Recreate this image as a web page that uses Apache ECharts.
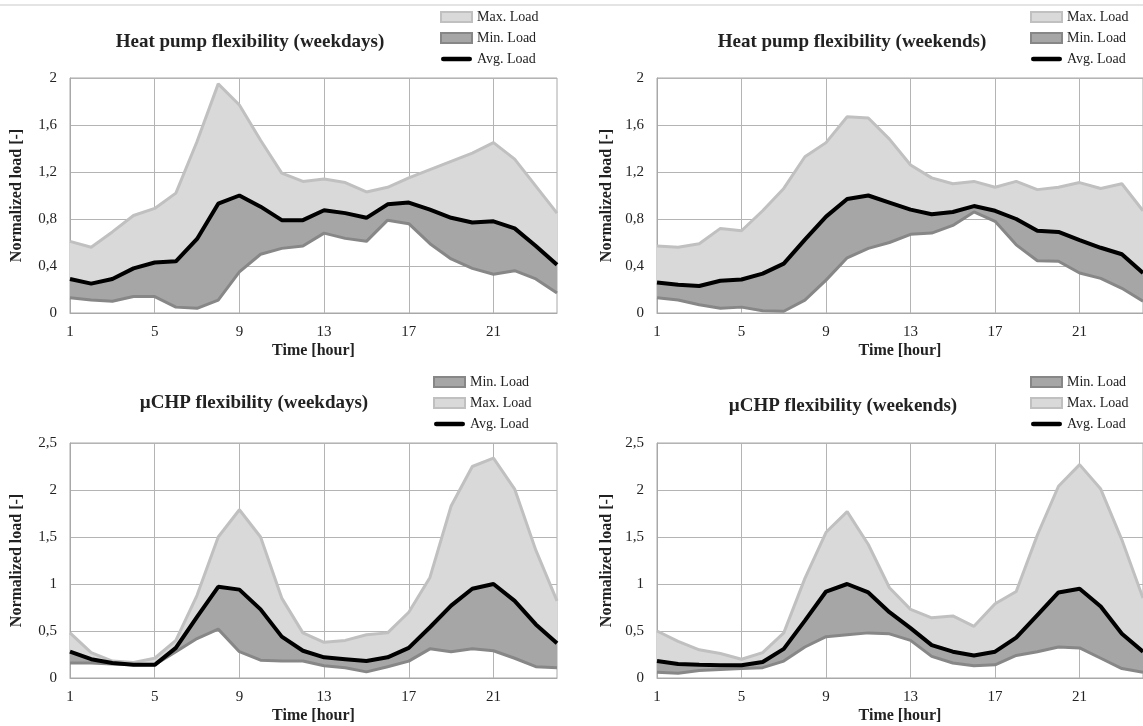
<!DOCTYPE html>
<html>
<head>
<meta charset="utf-8">
<title>Heat pump and µCHP flexibility</title>
<script src="https://cdn.jsdelivr.net/npm/echarts@6/dist/echarts.min.js"></script>
<style>
html,body{margin:0;padding:0;background:#fff;}
#main{width:1143px;height:726px;}
</style>
</head>
<body>
<div id="main"></div>
<script>
var hours = ['1','2','3','4','5','6','7','8','9','10','11','12','13','14','15','16','17','18','19','20','21','22','23','24'];

// heat pump, weekdays
var hpWdMax = [0.61,0.56,0.69,0.83,0.89,1.02,1.46,1.95,1.77,1.47,1.19,1.12,1.14,1.11,1.03,1.07,1.15,1.22,1.29,1.36,1.45,1.31,1.08,0.85];
var hpWdAvg = [0.29,0.25,0.29,0.38,0.43,0.44,0.63,0.93,1.00,0.905,0.79,0.79,0.875,0.85,0.81,0.925,0.94,0.88,0.81,0.77,0.78,0.72,0.57,0.41];
var hpWdMin = [0.13,0.11,0.10,0.14,0.14,0.05,0.04,0.11,0.35,0.50,0.55,0.57,0.68,0.635,0.61,0.79,0.76,0.59,0.46,0.38,0.33,0.36,0.29,0.17];

// heat pump, weekends
var hpWeMax = [0.57,0.56,0.59,0.72,0.70,0.87,1.06,1.33,1.45,1.67,1.66,1.48,1.26,1.15,1.10,1.12,1.07,1.12,1.05,1.07,1.11,1.06,1.10,0.87];
var hpWeAvg = [0.26,0.24,0.23,0.275,0.285,0.335,0.42,0.625,0.82,0.97,1.00,0.94,0.88,0.84,0.86,0.91,0.87,0.80,0.70,0.69,0.62,0.555,0.50,0.34];
var hpWeMin = [0.13,0.11,0.07,0.04,0.05,0.02,0.015,0.11,0.28,0.47,0.55,0.60,0.67,0.68,0.745,0.86,0.78,0.58,0.445,0.44,0.34,0.295,0.21,0.10];

// µCHP, weekdays
var chpWdMax = [0.48,0.27,0.18,0.165,0.21,0.40,0.88,1.50,1.79,1.50,0.85,0.48,0.38,0.40,0.46,0.48,0.70,1.07,1.83,2.25,2.34,2.01,1.36,0.82];
var chpWdAvg = [0.28,0.20,0.16,0.14,0.14,0.32,0.65,0.97,0.94,0.73,0.44,0.29,0.22,0.20,0.18,0.22,0.32,0.54,0.77,0.95,1.00,0.82,0.57,0.37];
var chpWdMin = [0.16,0.16,0.15,0.14,0.14,0.28,0.42,0.52,0.28,0.19,0.18,0.18,0.13,0.11,0.065,0.12,0.18,0.31,0.28,0.31,0.29,0.21,0.12,0.11];

// µCHP, weekends
var chpWeMax = [0.50,0.39,0.30,0.26,0.20,0.27,0.48,1.06,1.55,1.77,1.42,0.96,0.73,0.64,0.66,0.55,0.79,0.92,1.52,2.04,2.27,2.01,1.47,0.85];
var chpWeAvg = [0.18,0.15,0.14,0.135,0.135,0.17,0.31,0.61,0.92,1.00,0.91,0.70,0.53,0.35,0.28,0.24,0.28,0.43,0.67,0.91,0.95,0.76,0.47,0.28];
var chpWeMin = [0.06,0.05,0.08,0.09,0.10,0.11,0.18,0.33,0.44,0.46,0.48,0.47,0.40,0.23,0.16,0.13,0.14,0.24,0.28,0.33,0.32,0.21,0.10,0.06];

var titles = ['Heat pump flexibility (weekdays)','Heat pump flexibility (weekends)','µCHP flexibility (weekdays)','µCHP flexibility (weekends)'];

var FONT = '"Liberation Serif", "DejaVu Serif", serif';
var C_LIGHT = '#d9d9d9', C_LIGHT_LINE = '#c0c0c0';
var C_DARK = '#a6a6a6', C_DARK_LINE = '#878787';

var chart = echarts.init(document.getElementById('main'));

var grids = [
    {left: 70, top: 78, width: 487, height: 235},
    {left: 657, top: 78, width: 486, height: 235},
    {left: 70, top: 443, width: 487, height: 235},
    {left: 657, top: 443, width: 486, height: 235}
];

function commaLabel(v){
    return String(+v.toFixed(2)).replace('.', ',');
}

var xAxes = [], yAxes = [], series = [], legends = [], titleOpts = [];

function addPanel(i, max, avg, min, yMax, yStep, titleX, titleY, legendX, legendY, legendOrder){
    grids[i].show = true;
    grids[i].borderColor = '#a8a8a8';
    grids[i].borderWidth = 1;

    xAxes.push({
        gridIndex: i, type: 'category', data: hours, boundaryGap: false,
        name: 'Time [hour]', nameLocation: 'middle', nameGap: 30,
        nameTextStyle: {fontFamily: FONT, fontSize: 16, fontWeight: 'bold', color: '#222'},
        axisLine: {lineStyle: {color: '#a8a8a8'}},
        axisTick: {show: false},
        axisLabel: {interval: 3, margin: 12, fontFamily: FONT, fontSize: 15, color: '#222'},
        splitLine: {show: true, interval: 3, lineStyle: {color: '#b4b4b4'}}
    });
    yAxes.push({
        gridIndex: i, type: 'value', min: 0, max: yMax, interval: yStep,
        name: 'Normalized load [-]', nameLocation: 'middle', nameGap: (i % 2 == 0) ? 45 : 42,
        nameTextStyle: {fontFamily: FONT, fontSize: 16, fontWeight: 'bold', color: '#222'},
        axisLine: {show: true, lineStyle: {color: '#a8a8a8'}},
        axisTick: {show: false},
        axisLabel: {margin: 13, fontFamily: FONT, fontSize: 15, color: '#222', formatter: commaLabel},
        splitLine: {show: true, lineStyle: {color: '#b4b4b4'}}
    });

    // bands between min/avg and avg/max, built by stacking the differences
    var dark = [], light = [];
    for (var k = 0; k < avg.length; k++) {
        dark.push(avg[k] - min[k]);
        light.push(max[k] - avg[k]);
    }
    var base = {type: 'line', xAxisIndex: i, yAxisIndex: i, symbol: 'none', silent: true, animation: false};
    series.push(Object.assign({}, base, {name: 'base', stack: 'band' + i, data: min, lineStyle: {opacity: 0}}));
    series.push(Object.assign({}, base, {name: 'Min. Load', stack: 'band' + i, data: dark, lineStyle: {opacity: 0}, areaStyle: {color: C_DARK, opacity: 1}}));
    series.push(Object.assign({}, base, {name: 'Max. Load', stack: 'band' + i, data: light, lineStyle: {opacity: 0}, areaStyle: {color: C_LIGHT, opacity: 1}}));
    series.push(Object.assign({}, base, {name: 'Max. Load', data: max, z: 3, lineStyle: {color: C_LIGHT_LINE, width: 3}}));
    series.push(Object.assign({}, base, {name: 'Min. Load', data: min, z: 3, lineStyle: {color: C_DARK_LINE, width: 3}}));
    series.push(Object.assign({}, base, {name: 'Avg. Load', data: avg, z: 4, lineStyle: {color: '#000', width: 4}}));

    var items = {
        'Max. Load': {name: 'Max. Load', icon: 'rect', itemStyle: {color: C_LIGHT, borderColor: C_LIGHT_LINE, borderWidth: 2}},
        'Min. Load': {name: 'Min. Load', icon: 'rect', itemStyle: {color: C_DARK, borderColor: C_DARK_LINE, borderWidth: 2}},
        'Avg. Load': {name: 'Avg. Load', icon: 'path://M2.5,0 L30.5,0 A2.5,2.5 0 0 1 30.5,5 L2.5,5 A2.5,2.5 0 0 1 2.5,0 Z', itemStyle: {color: '#000', borderWidth: 0}}
    };
    legends.push({
        orient: 'vertical', left: legendX, top: legendY, padding: 0,
        itemWidth: 31, itemHeight: 10, itemGap: 7, selectedMode: false,
        textStyle: {fontFamily: FONT, fontSize: 14, color: '#222'},
        data: legendOrder.map(function(n){ return items[n]; })
    });

    titleOpts.push({
        text: titles[i], left: titleX, top: titleY, padding: 0,
        textAlign: 'center', textVerticalAlign: 'middle',
        textStyle: {fontFamily: FONT, fontSize: 19, fontWeight: 'bold', color: '#222'}
    });
}

addPanel(0, hpWdMax, hpWdAvg, hpWdMin, 2, 0.4, 250, 42, 440, 10, ['Max. Load','Min. Load','Avg. Load']);
addPanel(1, hpWeMax, hpWeAvg, hpWeMin, 2, 0.4, 852, 42, 1030, 10, ['Max. Load','Min. Load','Avg. Load']);
addPanel(2, chpWdMax, chpWdAvg, chpWdMin, 2.5, 0.5, 254, 403, 433, 375, ['Min. Load','Max. Load','Avg. Load']);
addPanel(3, chpWeMax, chpWeAvg, chpWeMin, 2.5, 0.5, 843, 406, 1030, 375, ['Min. Load','Max. Load','Avg. Load']);

chart.setOption({
    backgroundColor: '#fff',
    animation: false,
    title: titleOpts,
    legend: legends,
    grid: grids,
    xAxis: xAxes,
    yAxis: yAxes,
    series: series,
    graphic: [
        {type: 'rect', shape: {x: 0, y: 4, width: 1143, height: 2}, style: {fill: '#e4e4e4'}, silent: true}
    ]
});
</script>
</body>
</html>
